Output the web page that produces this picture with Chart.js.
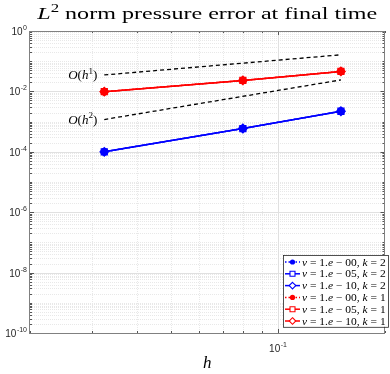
<!DOCTYPE html>
<html>
<head>
<meta charset="utf-8">
<script src="https://cdn.jsdelivr.net/npm/chart.js@4.4.1/dist/chart.umd.min.js"></script>
<style>
  html, body { margin: 0; padding: 0; background: #fff; }
  #wrap { width: 390px; height: 374px; position: relative; }
</style>
</head>
<body>
<div id="wrap"><canvas id="errChart"></canvas></div>
<script>
// ── Data ──
const hValues = [0.0324, 0.0797, 0.1507];

// k = 2 (blue)
const errNu0K2  = [1.0e-4, 5.9e-4, 2.2e-3];
const errNu5K2  = [1.0e-4, 5.9e-4, 2.2e-3];
const errNu10K2 = [1.0e-4, 5.9e-4, 2.2e-3];
// k = 1 (red)
const errNu0K1  = [0.0098, 0.023, 0.046];
const errNu5K1  = [0.0098, 0.023, 0.046];
const errNu10K1 = [0.0098, 0.023, 0.046];

// reference slopes
const rateH      = [0.0324, 0.1507];
const rateOrder1 = [0.035, 0.163];
const rateOrder2 = [0.00117, 0.024];

const seriesLabels = [
  ['00', '2'], ['05', '2'], ['10', '2'],
  ['00', '1'], ['05', '1'], ['10', '1']
];
const yTickExps = [0, -2, -4, -6, -8, -10];
const xTickExps = [-1];
const X_MIN = 0.02, X_MAX = 0.2;
const Y_MIN = 1e-10, Y_MAX = 1;

const BLUE = '#0000ff', RED = '#ff0000';
const pts = (xs, ys) => xs.map((x, i) => ({ x, y: ys[i] }));

function series(label, vals, color, style, dotted) {
  return {
    label, data: pts(hValues, vals), showLine: true,
    borderColor: color, borderWidth: 1.5,
    borderDash: dotted ? [1.5, 2] : [],
    pointStyle: style,
    pointRadius: style === 'circle' ? 3.2 : 4.3,
    pointBorderWidth: 1.2,
    pointBackgroundColor: style === 'circle' ? color : 'rgba(0,0,0,0)',
    pointBorderColor: color,
    legend: true
  };
}
function rateLine(vals) {
  return {
    label: '', data: pts(rateH, vals), showLine: true,
    borderColor: '#000', borderWidth: 1.3, borderDash: [4, 3],
    pointRadius: 0, legend: false
  };
}

// ── Rich text helper: [{t, it, sup}] ──
function richWidth(ctx, parts, size, family) {
  let w = 0;
  for (const p of parts) {
    ctx.font = (p.it ? 'italic ' : '') + (p.sup ? size * 0.7 : size) + 'px ' + family;
    w += ctx.measureText(p.t).width;
  }
  return w;
}
function richDraw(ctx, parts, x, y, size, family) {
  for (const p of parts) {
    const s = p.sup ? size * 0.7 : size;
    ctx.font = (p.it ? 'italic ' : '') + s + 'px ' + family;
    ctx.fillText(p.t, x, p.sup ? y - size * 0.42 : y);
    x += ctx.measureText(p.t).width;
  }
}

// ── MATLAB-style axes, grid, labels and legend ──
const matlabAxes = {
  id: 'matlabAxes',
  beforeDraw(chart) {
    const ctx = chart.ctx;
    ctx.save();
    ctx.fillStyle = '#fff';
    ctx.fillRect(0, 0, chart.width, chart.height);
    ctx.restore();
  },
  beforeDatasetsDraw(chart) {
    const { ctx, chartArea: a, scales: { x: xs, y: ys } } = chart;
    ctx.save();
    ctx.lineWidth = 1;
    // minor grid (dotted)
    ctx.strokeStyle = '#e8e8e8';
    ctx.setLineDash([1, 1]);
    for (let k = -10; k < 0; k++) {
      for (let m = 1; m <= 9; m++) {
        if (m === 1 && k % 2 === 0) continue;
        const py = Math.round(ys.getPixelForValue(m * 10 ** k)) + 0.5;
        ctx.beginPath(); ctx.moveTo(a.left, py); ctx.lineTo(a.right, py); ctx.stroke();
      }
    }
    for (let k = -2; k <= -1; k++) {
      for (let m = 1; m <= 9; m++) {
        const v = m * 10 ** k;
        if (v <= X_MIN * 1.001 || v >= X_MAX * 0.999 || Math.abs(v - 0.1) < 1e-9) continue;
        const px = Math.round(xs.getPixelForValue(v)) + 0.5;
        ctx.beginPath(); ctx.moveTo(px, a.top); ctx.lineTo(px, a.bottom); ctx.stroke();
      }
    }
    // major grid
    ctx.setLineDash([]);
    ctx.strokeStyle = '#e0e0e0';
    for (const e of yTickExps) {
      const py = Math.round(ys.getPixelForValue(10 ** e)) + 0.5;
      ctx.beginPath(); ctx.moveTo(a.left, py); ctx.lineTo(a.right, py); ctx.stroke();
    }
    for (const e of xTickExps) {
      const px = Math.round(xs.getPixelForValue(10 ** e)) + 0.5;
      ctx.beginPath(); ctx.moveTo(px, a.top); ctx.lineTo(px, a.bottom); ctx.stroke();
    }
    ctx.restore();
  },
  afterDatasetsDraw(chart) {
    const { ctx, chartArea: a, scales: { x: xs, y: ys } } = chart;
    ctx.save();
    // ticks (inside, both sides)
    ctx.strokeStyle = '#555';
    ctx.lineWidth = 1;
    for (let k = -10; k <= 0; k++) {
      for (let m = 1; m <= (k === 0 ? 1 : 9); m++) {
        const major = m === 1 && k % 2 === 0;
        const len = major ? 4 : 2;
        const py = Math.round(ys.getPixelForValue(m * 10 ** k)) + 0.5;
        ctx.beginPath();
        ctx.moveTo(a.left, py); ctx.lineTo(a.left + len, py);
        ctx.moveTo(a.right, py); ctx.lineTo(a.right - len, py);
        ctx.stroke();
      }
    }
    for (let k = -2; k <= -1; k++) {
      for (let m = 1; m <= 9; m++) {
        const v = m * 10 ** k;
        if (v < X_MIN * 0.999 || v > X_MAX * 1.001) continue;
        const major = Math.abs(v - 0.1) < 1e-9;
        const len = major ? 4 : 2;
        const px = Math.round(xs.getPixelForValue(v)) + 0.5;
        ctx.beginPath();
        ctx.moveTo(px, a.bottom); ctx.lineTo(px, a.bottom - len);
        ctx.moveTo(px, a.top); ctx.lineTo(px, a.top + len);
        ctx.stroke();
      }
    }
    // box
    ctx.strokeStyle = '#808080';
    ctx.strokeRect(Math.round(a.left) - 0.5, Math.round(a.top) + 0.5,
                   Math.round(a.right - a.left), Math.round(a.bottom - a.top));

    // tick labels
    ctx.fillStyle = '#262626';
    ctx.textBaseline = 'alphabetic';
    ctx.textAlign = 'left';
    const sans = '"Liberation Sans", Arial, sans-serif';
    for (const e of yTickExps) {
      const py = ys.getPixelForValue(10 ** e);
      ctx.font = '7px ' + sans;
      const sup = String(e);
      const sw = ctx.measureText(sup).width;
      ctx.font = '10px ' + sans;
      const bw = ctx.measureText('10').width;
      const x0 = a.left - 3.5 - sw - bw;
      ctx.fillText('10', x0, py + 4);
      ctx.font = '7px ' + sans;
      ctx.fillText(sup, x0 + bw + 0.5, py - 1);
    }
    for (const e of xTickExps) {
      const px = xs.getPixelForValue(10 ** e);
      ctx.font = '7px ' + sans;
      const sup = String(e);
      const sw = ctx.measureText(sup).width;
      ctx.font = '10px ' + sans;
      const bw = ctx.measureText('10').width;
      const x0 = px - (sw + bw) / 2;
      ctx.fillText('10', x0, a.bottom + 19);
      ctx.font = '7px ' + sans;
      ctx.fillText(sup, x0 + bw + 0.5, a.bottom + 14);
    }

    // title and axis label
    const serif = '"Liberation Serif", "Times New Roman", serif';
    ctx.fillStyle = '#000';
    const title = [{ t: 'L', it: true }, { t: '2', sup: true },
                   { t: ' norm pressure error at final time' }];
    const tw = richWidth(ctx, title, 17, serif);
    const sx = 340 / tw;
    ctx.save();
    ctx.translate((a.left + a.right) / 2 - 170, 19);
    ctx.scale(sx, 1);
    richDraw(ctx, title, 0, 0, 17, serif);
    ctx.restore();

    const hw = richWidth(ctx, [{ t: 'h', it: true }], 17, serif);
    richDraw(ctx, [{ t: 'h', it: true }], (a.left + a.right) / 2 - hw / 2, a.bottom + 35, 17, serif);

    // slope annotations next to the dashed lines
    const orders = [[rateOrder1, '1'], [rateOrder2, '2']];
    for (const [vals, o] of orders) {
      const px = xs.getPixelForValue(rateH[0]);
      const py = ys.getPixelForValue(vals[0]);
      const parts = [{ t: 'O', it: true }, { t: '(' }, { t: 'h', it: true },
                     { t: o, sup: true }, { t: ')' }];
      const w = richWidth(ctx, parts, 13, serif);
      richDraw(ctx, parts, px - 7 - w, py + 4, 13, serif);
    }

    // legend
    const items = chart.data.datasets.filter(d => d.legend);
    const lx = 283, ly = 255, lw = 105, rowH = 11.8;
    const lh = rowH * items.length + 1;
    ctx.fillStyle = '#fff';
    ctx.fillRect(lx, ly, lw, lh);
    ctx.strokeStyle = '#262626';
    ctx.lineWidth = 0.8;
    ctx.strokeRect(lx + 0.5, ly + 0.5, lw, lh);
    items.forEach((d, i) => {
      const cy = ly + 7 + i * rowH;
      ctx.strokeStyle = d.borderColor;
      ctx.lineWidth = 1.5;
      ctx.setLineDash(d.borderDash);
      ctx.beginPath(); ctx.moveTo(lx + 2, cy); ctx.lineTo(lx + 17, cy); ctx.stroke();
      ctx.setLineDash([]);
      ctx.lineWidth = 1.1;
      const mx = lx + 9.5;
      ctx.beginPath();
      if (d.pointStyle === 'circle') {
        ctx.arc(mx, cy, 2.6, 0, Math.PI * 2);
        ctx.fillStyle = d.borderColor; ctx.fill();
      } else if (d.pointStyle === 'rect') {
        ctx.rect(mx - 2.5, cy - 2.5, 5, 5);
        ctx.fillStyle = '#fff'; ctx.fill(); ctx.stroke();
      } else {
        ctx.moveTo(mx, cy - 3.3); ctx.lineTo(mx + 3.3, cy);
        ctx.lineTo(mx, cy + 3.3); ctx.lineTo(mx - 3.3, cy); ctx.closePath();
        ctx.fillStyle = '#fff'; ctx.fill(); ctx.stroke();
      }
      const [nu, k] = seriesLabels[i];
      const parts = [{ t: 'ν', it: true }, { t: ' = 1.' }, { t: 'e', it: true },
                     { t: ' − ' + nu + ', ' }, { t: 'k', it: true }, { t: ' = ' + k }];
      const w = richWidth(ctx, parts, 10, serif);
      ctx.save();
      ctx.fillStyle = '#000';
      ctx.translate(lx + 19, cy + 3.5);
      ctx.scale(Math.min(1.15, 84 / w), 1);
      richDraw(ctx, parts, 0, 0, 10, serif);
      ctx.restore();
    });
    ctx.restore();
  }
};

const datasets = [
  rateLine(rateOrder1),
  rateLine(rateOrder2),
  series('nu=1e-00, k=2', errNu0K2, BLUE, 'circle', true),
  series('nu=1e-05, k=2', errNu5K2, BLUE, 'rect', false),
  series('nu=1e-10, k=2', errNu10K2, BLUE, 'rectRot', false),
  series('nu=1e-00, k=1', errNu0K1, RED, 'circle', true),
  series('nu=1e-05, k=1', errNu5K1, RED, 'rect', false),
  series('nu=1e-10, k=1', errNu10K1, RED, 'rectRot', false)
];

new Chart(document.getElementById('errChart'), {
  type: 'scatter',
  data: { datasets },
  options: {
    responsive: true,
    maintainAspectRatio: false,
    animation: false,
    layout: { padding: { left: 30, top: 31, right: 2, bottom: 41 } },
    plugins: { legend: { display: false }, tooltip: { enabled: false }, title: { display: false } },
    scales: {
      x: { type: 'logarithmic', min: X_MIN, max: X_MAX, display: false },
      y: { type: 'logarithmic', min: Y_MIN, max: Y_MAX, display: false }
    }
  },
  plugins: [matlabAxes]
});
</script>
</body>
</html>
